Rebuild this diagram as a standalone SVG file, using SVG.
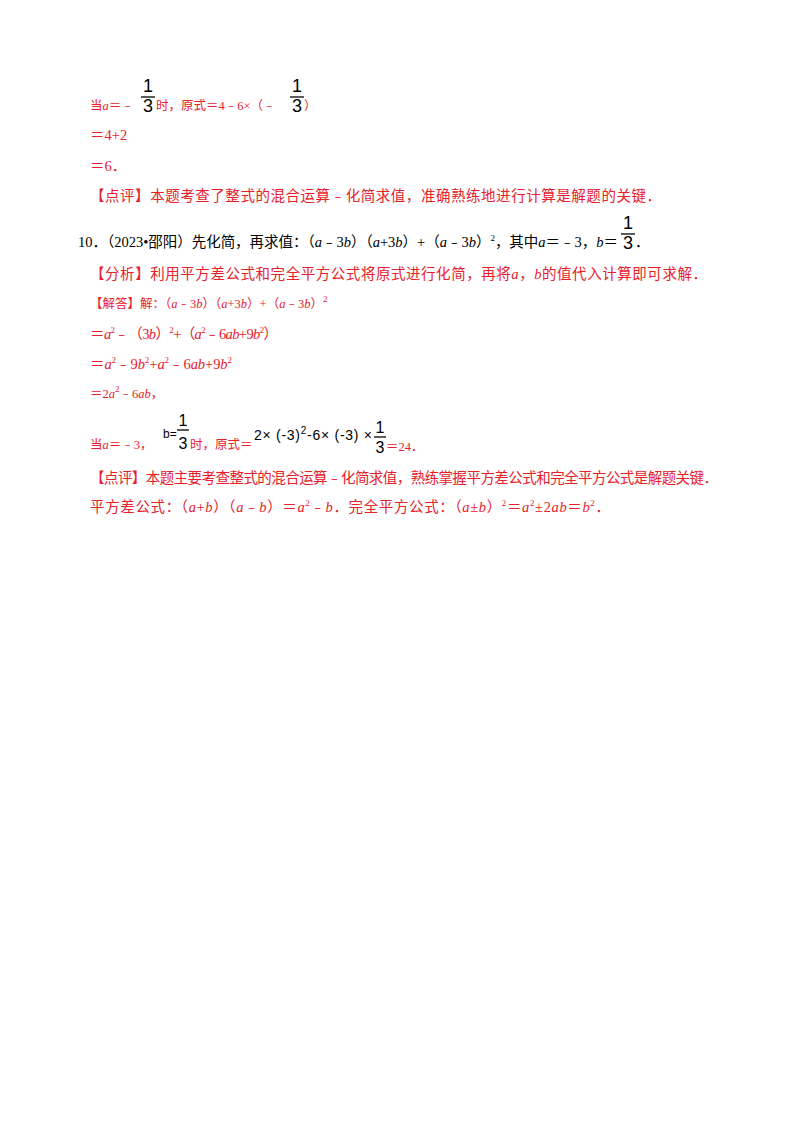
<svg xmlns="http://www.w3.org/2000/svg" width="800" height="1132" viewBox="0 0 800 1132">
<style>
text{font-family:"Liberation Serif","Noto Sans CJK SC",serif;font-size:14.5px;fill:#e8202a}
.k{fill:#000}
.sm{font-size:12.5px}
.s{font-family:"Liberation Sans","Noto Sans CJK SC",sans-serif;fill:#000}
.f{font-family:"Liberation Sans",sans-serif;font-size:18px;fill:#000;text-anchor:middle}
.i{font-style:italic}
.sup{font-size:9px}
line{stroke:#000;stroke-width:1.3}
</style>
<rect width="800" height="1132" fill="#fff"/>
<g id="l1">
<text class="sm" x="90" y="110">当<tspan class="i">a</tspan>＝﹣</text>
<text class="f" x="148" y="92">1</text><line x1="141" y1="97" x2="155" y2="97"/><text class="f" x="148" y="112">3</text>
<text class="sm" x="156" y="110">时，原式＝4﹣6×（﹣</text>
<text class="f" x="297" y="92">1</text><line x1="290" y1="97" x2="304" y2="97"/><text class="f" x="297" y="112">3</text>
<text class="sm" x="304" y="110">）</text>
</g>
<text x="90" y="140">＝4+2</text>
<text x="90" y="171">＝6．</text>
<text x="90" y="201" textLength="571" lengthAdjust="spacing">【点评】本题考查了整式的混合运算﹣化简求值，准确熟练地进行计算是解题的关键．</text>
<g id="q10">
<text class="k" x="78" y="247" textLength="540" lengthAdjust="spacing">10．（2023•邵阳）先化简，再求值：（<tspan class="i">a</tspan>﹣3<tspan class="i">b</tspan>）（<tspan class="i">a</tspan>+3<tspan class="i">b</tspan>）+（<tspan class="i">a</tspan>﹣3<tspan class="i">b</tspan>）<tspan class="sup" dy="-6">2</tspan><tspan dy="6">，其中</tspan><tspan class="i">a</tspan>＝﹣3，<tspan class="i">b</tspan>＝</text>
<text class="f" x="628" y="229">1</text><line x1="621" y1="234" x2="635" y2="234"/><text class="f" x="628" y="249">3</text>
<text class="k" x="635" y="247">．</text>
</g>
<text x="90" y="279" textLength="617" lengthAdjust="spacing">【分析】利用平方差公式和完全平方公式将原式进行化简，再将<tspan class="i">a</tspan>，<tspan class="i">b</tspan>的值代入计算即可求解．</text>
<text class="sm" x="90" y="308">【解答】解：（<tspan class="i">a</tspan>﹣3<tspan class="i">b</tspan>）（<tspan class="i">a</tspan>+3<tspan class="i">b</tspan>）+（<tspan class="i">a</tspan>﹣3<tspan class="i">b</tspan>）<tspan class="sup" dy="-6">2</tspan></text>
<text x="90" y="339" textLength="188" lengthAdjust="spacing">＝<tspan class="i">a</tspan><tspan class="sup" dy="-6">2</tspan><tspan dy="6">﹣（3</tspan><tspan class="i">b</tspan>）<tspan class="sup" dy="-6">2</tspan><tspan dy="6">+（</tspan><tspan class="i">a</tspan><tspan class="sup" dy="-6">2</tspan><tspan dy="6">﹣6</tspan><tspan class="i">ab</tspan>+9<tspan class="i">b</tspan><tspan class="sup" dy="-6">2</tspan><tspan dy="6">）</tspan></text>
<text x="90" y="369" textLength="142" lengthAdjust="spacing">＝<tspan class="i">a</tspan><tspan class="sup" dy="-6">2</tspan><tspan dy="6">﹣9</tspan><tspan class="i">b</tspan><tspan class="sup" dy="-6">2</tspan><tspan dy="6">+</tspan><tspan class="i">a</tspan><tspan class="sup" dy="-6">2</tspan><tspan dy="6">﹣6</tspan><tspan class="i">ab</tspan>+9<tspan class="i">b</tspan><tspan class="sup" dy="-6">2</tspan></text>
<text class="sm" x="90" y="398">＝2<tspan class="i">a</tspan><tspan class="sup" dy="-6">2</tspan><tspan dy="6">﹣6</tspan><tspan class="i">ab</tspan>，</text>
<g id="sub">
<text class="sm" x="90" y="449">当<tspan class="i">a</tspan>＝﹣3，</text>
<text class="s" x="163" y="438" style="font-size:12px">b=</text>
<text class="f" x="183" y="426" style="font-size:16px">1</text><line x1="177" y1="430" x2="189" y2="430"/><text class="f" x="183" y="449" style="font-size:16px">3</text>
<text class="sm" x="190" y="449">时，原式＝</text>
<text class="s" x="254" y="440" style="font-size:14px" textLength="118" lengthAdjust="spacing">2× (-3)<tspan font-size="10" dy="-6">2</tspan><tspan dy="6">-6× (-3) ×</tspan></text>
<text class="f" x="380" y="433" style="font-size:16px">1</text><line x1="374" y1="437" x2="386" y2="437"/><text class="f" x="380" y="453" style="font-size:16px">3</text>
<text class="sm" x="386" y="451">＝24．</text>
</g>
<text x="90" y="483" textLength="628" lengthAdjust="spacing">【点评】本题主要考查整式的混合运算﹣化简求值，熟练掌握平方差公式和完全平方公式是解题关键．</text>
<text x="90" y="512" textLength="520" lengthAdjust="spacing">平方差公式：（<tspan class="i">a</tspan>+<tspan class="i">b</tspan>）（<tspan class="i">a</tspan>﹣<tspan class="i">b</tspan>）＝<tspan class="i">a</tspan><tspan class="sup" dy="-6">2</tspan><tspan dy="6">﹣</tspan><tspan class="i">b</tspan>．完全平方公式：（<tspan class="i">a</tspan>±<tspan class="i">b</tspan>）<tspan class="sup" dy="-6">2</tspan><tspan dy="6">＝</tspan><tspan class="i">a</tspan><tspan class="sup" dy="-6">2</tspan><tspan dy="6">±2</tspan><tspan class="i">ab</tspan>＝<tspan class="i">b</tspan><tspan class="sup" dy="-6">2</tspan><tspan dy="6">．</tspan></text>
</svg>
